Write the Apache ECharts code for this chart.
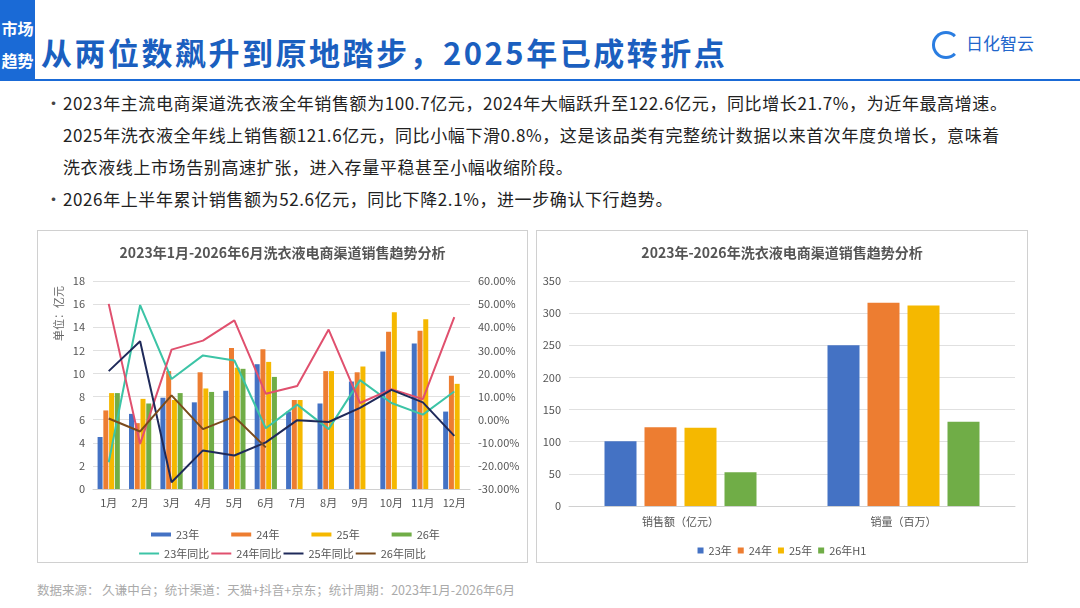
<!DOCTYPE html>
<html lang="zh">
<head>
<meta charset="utf-8">
<title>洗衣液电商渠道销售趋势</title>
<script src="https://cdn.jsdelivr.net/npm/echarts@6/dist/echarts.min.js"></script>
<style>
  html, body { margin: 0; padding: 0; width: 1080px; height: 608px; background: #fff; overflow: hidden;
    font-family: "Noto Sans CJK SC", "Noto Sans", sans-serif; }
  .tag { position: absolute; left: 0; top: 0; width: 35px; height: 79px; background: #1a6ad6; color: #fff;
    font-size: 16px; font-weight: bold; line-height: 32px; text-align: center; padding-top: 12px; box-sizing: border-box; }
  .title { position: absolute; left: 41px; top: 30px; font-size: 31px; line-height: 44px; font-weight: bold; color: #1b5fbf; letter-spacing: 2.5px; }
  .rule { position: absolute; left: 0; top: 79px; width: 1080px; height: 2px; background: #1a6ad6; }
  .logo { position: absolute; left: 932px; top: 30px; color: #2266cc; font-size: 17px; }
  .logo .ico { display: inline-block; width: 28px; height: 28px; border-radius: 50%; border: 3px solid #2a7de1;
    border-right-color: transparent; box-sizing: border-box; vertical-align: middle; margin-right: 6px; }
  .text { position: absolute; left: 45px; top: 87px; width: 1030px; font-size: 17px; letter-spacing: 0.6px; color: #222; line-height: 32px; }
  .text p { margin: 0; padding-left: 18px; position: relative; white-space: nowrap; }
  .text p.b::before { content: "•"; position: absolute; left: 0; top: 0; color: #444; }
  .panel { position: absolute; top: 230px; height: 333px; border: 1px solid #d0d0d0; box-sizing: border-box; }
  #left { left: 37px; width: 491px; }
  #right { left: 536px; width: 492px; }
  .foot { position: absolute; left: 37px; top: 580px; font-size: 12.5px; color: #aaa; }
</style>
</head>
<body>
<div class="tag">市场<br>趋势</div>
<div class="title">从两位数飙升到原地踏步，2025年已成转折点</div>
<div class="rule"></div>
<div class="logo"><span class="ico"></span>日化智云</div>
<div class="text">
  <p class="b">2023年主流电商渠道洗衣液全年销售额为100.7亿元，2024年大幅跃升至122.6亿元，同比增长21.7%，为近年最高增速。</p>
  <p>2025年洗衣液全年线上销售额121.6亿元，同比小幅下滑0.8%，这是该品类有完整统计数据以来首次年度负增长，意味着</p>
  <p>洗衣液线上市场告别高速扩张，进入存量平稳甚至小幅收缩阶段。</p>
  <p class="b">2026年上半年累计销售额为52.6亿元，同比下降2.1%，进一步确认下行趋势。</p>
</div>
<div class="panel" id="left"></div>
<div class="panel" id="right"></div>
<div class="foot">数据来源：&nbsp;久谦中台；统计渠道：天猫+抖音+京东；统计周期：2023年1月-2026年6月</div>
<script>
// 月度数据（亿元）
var months = ['1月', '2月', '3月', '4月', '5月', '6月', '7月', '8月', '9月', '10月', '11月', '12月'];
var sales23 = [4.5, 6.5, 7.9, 7.5, 8.5, 10.8, 6.7, 7.4, 9.3, 11.9, 12.6, 6.7];
var sales24 = [6.8, 5.7, 10.2, 10.1, 12.2, 12.1, 7.7, 10.2, 10.1, 13.6, 13.7, 9.8];
var sales25 = [8.3, 7.8, 7.7, 8.7, 10.5, 11.0, 7.7, 10.2, 10.6, 15.3, 14.7, 9.1];
var sales26 = [8.3, 7.4, 8.3, 8.4, 10.4, 9.7];
// 同比（%）
var yoy23 = [-18.4, 49.6, 17.6, 27.8, 25.6, -3.7, 6.5, -4.1, 17.1, 7.2, 2.2, 12.2];
var yoy24 = [50.1, -10.5, 30.3, 34.2, 43.0, 11.2, 14.6, 39.0, 7.2, 13.2, 8.9, 44.4];
var yoy25 = [21.0, 33.9, -27.1, -13.3, -15.5, -9.8, -0.2, -1.0, 5.1, 12.9, 7.5, -7.0];
var yoy26 = [0.5, -5.1, 10.5, -4.1, 1.3, -12.0];
// 年度数据
var yearCats = ['销售额（亿元）', '销量（百万）'];
var year23 = [100.7, 250];
var year24 = [122.6, 316];
var year25 = [121.6, 312];
var year26h1 = [52.6, 131];

var barColors = ['#4472c4', '#ed7d31', '#f5b800', '#70ad47'];
var lineColors = ['#3cc4a6', '#e0506e', '#1f2a5a', '#7a4a1c'];
var font = '"Noto Sans CJK SC", sans-serif';

var left = echarts.init(document.getElementById('left'));
function barS(name, data, i) {
  return { name: name, type: 'bar', data: data, barWidth: 5, barGap: '15%', itemStyle: { color: barColors[i] } };
}
function lineS(name, data, i) {
  return { name: name, type: 'line', yAxisIndex: 1, data: data, symbol: 'none', z: 5,
    lineStyle: { color: lineColors[i], width: 2 }, itemStyle: { color: lineColors[i] } };
}
left.setOption({
  textStyle: { fontFamily: font },
  title: { text: '2023年1月-2026年6月洗衣液电商渠道销售趋势分析', left: 'center', top: 10,
    textStyle: { fontSize: 14, fontWeight: 'bold', color: '#555' } },
  grid: { left: 55, right: 57, top: 50, bottom: 73 },
  legend: [
    { data: ['23年', '24年', '25年', '26年'], top: 293, left: 108, itemWidth: 20, itemHeight: 4, itemGap: 32,
      icon: 'rect', textStyle: { fontSize: 11, color: '#555' } },
    { data: ['23年同比', '24年同比', '25年同比', '26年同比'], top: 312, left: 'center', itemWidth: 20, itemHeight: 2, itemGap: 2,
      icon: 'rect', textStyle: { fontSize: 11, color: '#555' } }
  ],
  xAxis: { type: 'category', data: months, axisTick: { show: false },
    axisLine: { lineStyle: { color: '#d0d0d0' } }, axisLabel: { color: '#555', fontSize: 11 } },
  yAxis: [
    { type: 'value', min: 0, max: 18, interval: 2, axisLabel: { color: '#555', fontSize: 11 },
      splitLine: { lineStyle: { color: '#e0e0e0' } } },
    { type: 'value', min: -30, max: 60, interval: 10, axisLabel: { color: '#555', fontSize: 11, formatter: '{value}.00%' },
      splitLine: { show: false } }
  ],
  graphic: [{ type: 'text', left: 15, top: 55, rotation: Math.PI / 2,
    style: { text: '单位：亿元', fill: '#666', fontSize: 11, fontFamily: font } }],
  series: [
    barS('23年', sales23, 0), barS('24年', sales24, 1), barS('25年', sales25, 2), barS('26年', sales26, 3),
    lineS('23年同比', yoy23, 0), lineS('24年同比', yoy24, 1), lineS('25年同比', yoy25, 2), lineS('26年同比', yoy26, 3)
  ]
});

var right = echarts.init(document.getElementById('right'));
function yearBar(name, data, i) {
  return { name: name, type: 'bar', data: data, barWidth: 32, barGap: '25%', itemStyle: { color: barColors[i] } };
}
right.setOption({
  textStyle: { fontFamily: font },
  title: { text: '2023年-2026年洗衣液电商渠道销售趋势分析', left: 'center', top: 10,
    textStyle: { fontSize: 14, fontWeight: 'bold', color: '#555' } },
  grid: { left: 32, right: 12, top: 50, bottom: 56 },
  legend: { data: ['23年', '24年', '25年', '26年H1'], top: 309, left: 'center', itemWidth: 6, itemHeight: 6, itemGap: 6,
    icon: 'rect', textStyle: { fontSize: 11, color: '#555' } },
  xAxis: { type: 'category', data: yearCats, axisTick: { show: false },
    axisLine: { lineStyle: { color: '#d0d0d0' } }, axisLabel: { color: '#555', fontSize: 11, margin: 10 } },
  yAxis: { type: 'value', min: 0, max: 350, interval: 50, axisLabel: { color: '#555', fontSize: 11 },
    splitLine: { lineStyle: { color: '#e0e0e0' } } },
  series: [yearBar('23年', year23, 0), yearBar('24年', year24, 1), yearBar('25年', year25, 2), yearBar('26年H1', year26h1, 3)]
});
</script>
</body>
</html>
